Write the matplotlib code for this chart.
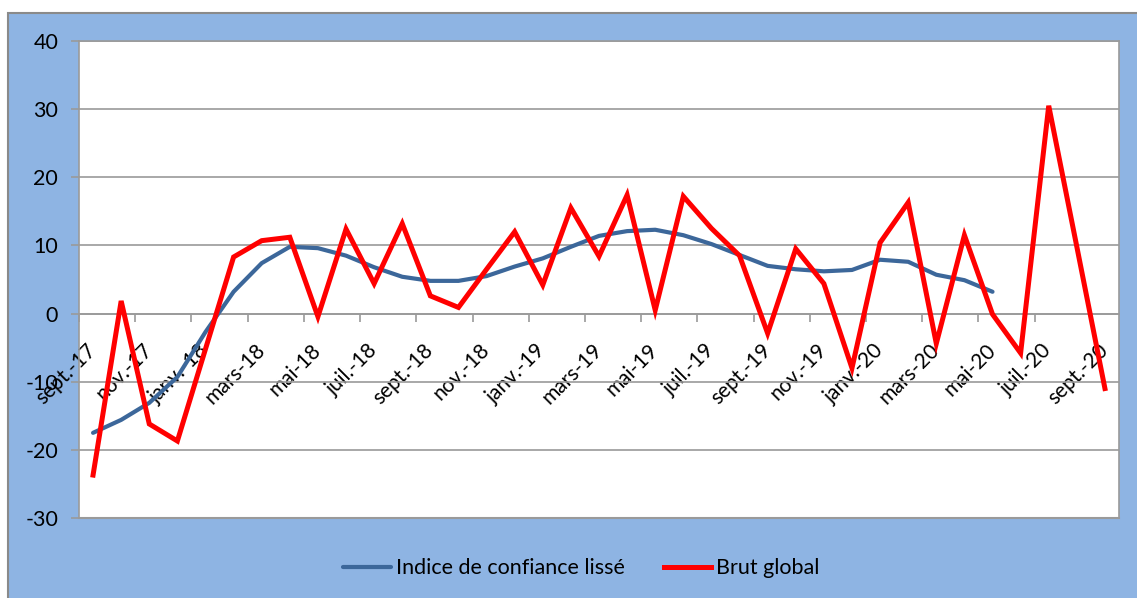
import numpy as np
from matplotlib import pyplot as plt
from matplotlib.patches import Rectangle

# months sept.-17 -> sept.-20
mois = ["sept.", "oct.", "nov.", "déc.", "janv.", "févr.", "mars", "avr.", "mai", "juin", "juil.", "août"]
annees = ["17", "18", "19", "20"]
dates = []
for k in range(37):
	a = (k + 8) // 12
	dates.append(mois[k % 12] + "-" + annees[a])

indice_lisse = [-17.5, -15.6, -13.1, -9.3, -2.7, 3.2, 7.4, 9.8, 9.6, 8.5,
	6.8, 5.4, 4.8, 4.8, 5.5, 6.9, 8.1, 9.8, 11.4, 12.1,
	12.3, 11.5, 10.2, 8.6, 7.0, 6.5, 6.2, 6.4, 7.9, 7.6,
	5.7, 4.9, 3.2]

brut_global = [-23.7, 1.85, -16.2, -18.7, -5.2, 8.3, 10.7, 11.2, -0.45, 12.4,
	4.4, 13.2, 2.6, 0.9, 6.5, 12.0, 4.2, 15.5, 8.4, 17.4,
	0.5, 17.2, 12.5, 8.5, -2.9, 9.5, 4.4, -8.0, 10.4, 16.3,
	-4.4, 11.5, -0.1, -5.8, 30.5, 9.8, -11.0]

gris = "#9a9a9a"
bleu_fond = "#8eb4e3"

plt.rcParams["font.family"] = ["Lato", "DejaVu Sans"]
plt.rcParams["axes.unicode_minus"] = False

fig = plt.figure(figsize=(11.37, 5.98), dpi=100)
fig.patch.set_facecolor("white")
fond = Rectangle((8/1137, -0.05), 1.0, 0.9783 + 0.05, transform=fig.transFigure,
	facecolor=bleu_fond, edgecolor="#8a8a8a", linewidth=1.5, zorder=-10)
fig.add_artist(fond)

ax = fig.add_axes([79/1137, 1 - 518/598, (1119 - 79)/1137, (518 - 41)/598])
ax.set_zorder(1)
ax.set_facecolor("white")

x = np.arange(len(dates))
ax.plot(x[:len(indice_lisse)], indice_lisse, color="#3c679a", linewidth=3.0,
	solid_joinstyle="round", solid_capstyle="round", label="Indice de confiance lissé", zorder=3)
ax.plot(x, brut_global, color="#ff0000", linewidth=3.6,
	solid_joinstyle="miter", label="Brut global", zorder=4)

ax.set_xlim(-0.5, len(dates) - 0.5)
ax.set_ylim(-30, 40)
ax.set_yticks(range(-30, 41, 10))
ax.yaxis.grid(True, color=gris, linewidth=1.2)
ax.set_axisbelow(True)

# x axis crosses at 0, bottom frame line drawn separately
ax.spines["bottom"].set_position(("data", 0))
for s in ["top", "right", "left", "bottom"]:
	ax.spines[s].set_color(gris)
	ax.spines[s].set_linewidth(1.2)
ax.axhline(-30, color=gris, linewidth=1.5, clip_on=False)

ax.set_xticks(x[::2])
ax.set_xticklabels(dates[::2])
ax.set_xticks(np.arange(-0.5, len(dates), 2), minor=True)
ax.tick_params(axis="x", which="major", length=0, pad=24, labelsize=15, colors="black")
ax.tick_params(axis="x", which="minor", length=6, width=1.2, color=gris, direction="out")
for lab in ax.get_xticklabels():
	lab.set_rotation(45)
	lab.set_ha("right")
	lab.set_va("center")
	lab.set_rotation_mode("anchor")

ax.tick_params(axis="y", length=6, width=1.2, color=gris, pad=9, labelsize=15.5)

fig.legend(loc="center", bbox_to_anchor=(0.5115, 0.05), ncol=2, frameon=False,
	fontsize=15.5, handlelength=2.2, handletextpad=0.25, columnspacing=1.8)

fig.savefig("out.png", dpi=100)
